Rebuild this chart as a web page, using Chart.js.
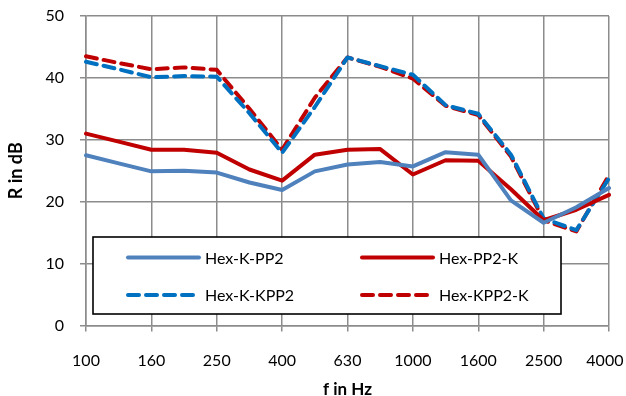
<!DOCTYPE html>
<html>
<head>
<meta charset="utf-8">
<script src="https://cdn.jsdelivr.net/npm/chart.js@4"></script>
<style>
html,body{margin:0;padding:0;background:#fff;}
#wrap{width:626px;height:396px;position:relative;}
</style>
</head>
<body>
<div id="wrap"><canvas id="c" width="626" height="396"></canvas></div>
<script>
const frequencies = ['100','125','160','200','250','315','400','500','630','800','1000','1250','1600','2000','2500','3150','4000'];
const hexKPP2  = [27.5, 26.2, 24.9, 25.0, 24.7, 23.1, 21.9, 24.9, 26.0, 26.4, 25.7, 28.0, 27.6, 20.2, 16.6, 19.1, 22.2];
const hexPP2K  = [31.0, 29.7, 28.4, 28.4, 27.9, 25.2, 23.4, 27.6, 28.4, 28.5, 24.4, 26.7, 26.6, 22.0, 17.0, 18.7, 21.1];
const hexKKPP2 = [42.6, 41.4, 40.1, 40.3, 40.2, 34.3, 27.9, 35.3, 43.3, 41.9, 40.5, 35.6, 34.2, 27.6, 17.3, 15.4, 23.8];
const hexKPP2K = [43.5, 42.4, 41.4, 41.7, 41.3, 35.0, 28.4, 36.8, 43.3, 41.8, 39.9, 35.5, 34.0, 27.3, 17.0, 15.2, 24.3];
const yTicks = [0, 10, 20, 30, 40, 50];

const FONT = 'Lato, "Liberation Sans", sans-serif';
const GRID = '#8c8c8c';
const DASH = [11, 7];

const boxLegend = {
  id: 'boxLegend',
  afterDatasetsDraw(chart) {
    const ctx = chart.ctx;
    const a = chart.chartArea;
    const x0 = a.left + 7, y0 = a.top + 221, x1 = a.left + 475, y1 = a.top + 298;
    ctx.save();
    ctx.fillStyle = '#fff';
    ctx.fillRect(x0, y0, x1 - x0, y1 - y0);
    ctx.strokeStyle = '#000';
    ctx.lineWidth = 1.6;
    ctx.strokeRect(x0, y0, x1 - x0, y1 - y0);
    const colX = [a.left + 42, a.left + 276];
    const rowY = [a.top + 241.5, a.top + 279];
    chart.data.datasets.forEach((ds, k) => {
      const cx = colX[k % 2], cy = rowY[Math.floor(k / 2)];
      ctx.beginPath();
      ctx.strokeStyle = ds.borderColor;
      ctx.lineWidth = ds.borderWidth;
      ctx.lineCap = 'round';
      ctx.setLineDash(ds.borderDash || []);
      ctx.moveTo(cx, cy);
      ctx.lineTo(cx + 71, cy);
      ctx.stroke();
      ctx.setLineDash([]);
      ctx.fillStyle = '#000';
      ctx.font = '16px ' + FONT;
      ctx.textBaseline = 'middle';
      ctx.textAlign = 'left';
      ctx.fillText(ds.label, cx + 77, cy + 1);
    });
    ctx.restore();
  }
};

new Chart(document.getElementById('c'), {
  type: 'line',
  data: {
    labels: frequencies,
    datasets: [
      { label: 'Hex-K-PP2', data: hexKPP2, borderColor: '#4f81bd', borderWidth: 4, pointRadius: 0, tension: 0, fill: false, borderCapStyle: 'round', borderJoinStyle: 'round' },
      { label: 'Hex-PP2-K', data: hexPP2K, borderColor: '#c00000', borderWidth: 4, pointRadius: 0, tension: 0, fill: false, borderCapStyle: 'round', borderJoinStyle: 'round' },
      { label: 'Hex-K-KPP2', data: hexKKPP2, borderColor: '#0070c0', borderWidth: 4, borderDash: DASH, pointRadius: 0, tension: 0, fill: false, borderCapStyle: 'round', borderJoinStyle: 'round' },
      { label: 'Hex-KPP2-K', data: hexKPP2K, borderColor: '#c00000', borderWidth: 4, borderDash: DASH, pointRadius: 0, tension: 0, fill: false, borderCapStyle: 'round', borderJoinStyle: 'round' }
    ]
  },
  options: {
    responsive: false,
    animation: false,
    events: [],
    layout: { padding: { left: 0, right: 17, top: 16, bottom: 0 } },
    plugins: { legend: { display: false }, tooltip: { enabled: false } },
    scales: {
      x: {
        type: 'category',
        offset: false,
        afterFit(s) { s.height = 70.5; s.paddingLeft = 0; s.paddingRight = 0; },
        grid: {
          color: (c) => (c.index % 2 === 0 ? GRID : 'rgba(0,0,0,0)'),
          lineWidth: 1.5,
          tickLength: 6,
          drawOnChartArea: true
        },
        border: { color: GRID, width: 1.5 },
        ticks: {
          autoSkip: false,
          maxRotation: 0,
          padding: 20,
          color: '#000',
          font: { family: FONT, size: 16 },
          callback: function(v, i) {
            if (i % 2 !== 0) return '';
            return i === frequencies.length - 1 ? frequencies[i] + '  ' : frequencies[i];
          }
        },
        title: { display: true, text: 'f in Hz', color: '#000', font: { family: FONT, size: 17, weight: 'bold' }, padding: { top: 0, bottom: -4 } }
      },
      y: {
        min: 0, max: 50,
        afterFit(s) { s.width = 86; s.paddingTop = 0; s.paddingBottom = 0; },
        afterBuildTicks(s) { s.ticks = yTicks.map(v => ({ value: v })); },
        grid: { color: GRID, lineWidth: 1.5, tickLength: 6 },
        border: { color: GRID, width: 1.5 },
        ticks: { padding: 16, color: '#000', font: { family: FONT, size: 16 } },
        title: { display: true, text: 'R in dB', color: '#000', font: { family: FONT, size: 18, weight: 'bold' }, padding: { top: 5.5, bottom: 0 } }
      }
    }
  },
  plugins: [boxLegend]
});
</script>
</body>
</html>
